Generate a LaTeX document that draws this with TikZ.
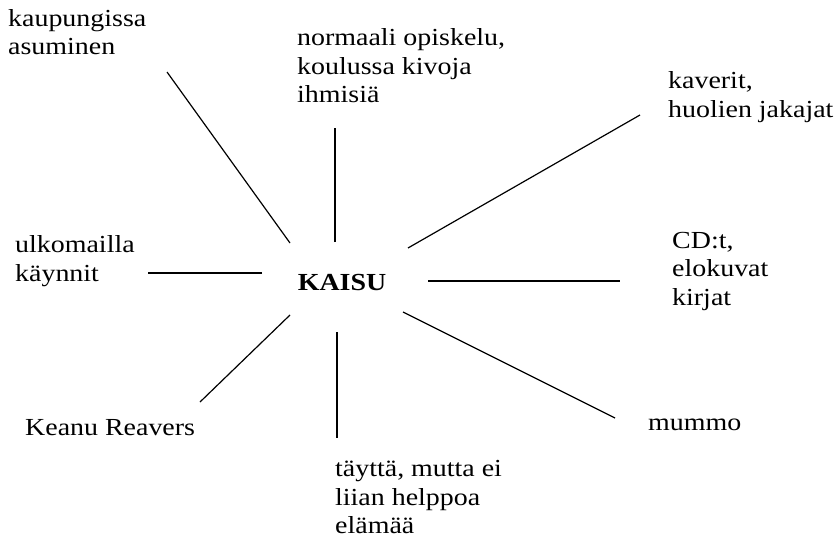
\documentclass[tikz,border=0pt]{standalone}
\usepackage{fontspec}
\setmainfont{Liberation Serif}[FakeStretch=1.14]
\begin{document}
\begin{tikzpicture}[x=1pt, y=-1pt,
    every node/.style={font=\fontsize{24.5}{28.5}\selectfont, inner sep=0pt},
    aihe/.style={anchor=west, align=left},
    viiva/.style={line width=1.2pt, black}]
    \useasboundingbox (0,0) rectangle (834,543);

    % --- keskus ---
    \node[font=\fontsize{24.5}{28.5}\selectfont\bfseries] (kaisu) at (342,283) {KAISU};

    % --- aiheet ---
    \node[aihe] (kaupunki) at (8,32)   {kaupungissa\\asuminen};
    \node[aihe] (opiskelu) at (297,66) {normaali opiskelu,\\koulussa kivoja\\ihmisiä};
    \node[aihe] (kaverit)  at (668,97) {kaverit,\\huolien jakajat};
    \node[aihe] (ulkomaat) at (15,261) {ulkomailla\\käynnit};
    \node[aihe] (media)    at (672,271) {CD:t,\\elokuvat\\kirjat};
    \node[aihe] (keanu)    at (25,428)  {Keanu Reavers};
    \node[aihe] (mummo)    at (648,425) {mummo};
    \node[aihe] (elama)    at (335,497) {täyttä, mutta ei\\liian helppoa\\elämää};

    % viivojen paat (kasin sijoitettu, kuten kuvassa)
    \coordinate (k1) at (290,243);  \coordinate (u1) at (167,72);
    \coordinate (k2) at (335,242);  \coordinate (u2) at (335,128);
    \coordinate (k3) at (408,248);  \coordinate (u3) at (640,115);
    \coordinate (k4) at (262,273);  \coordinate (u4) at (148,273);
    \coordinate (k5) at (428,281);  \coordinate (u5) at (620,281);
    \coordinate (k6) at (290,315);  \coordinate (u6) at (200,402);
    \coordinate (k7) at (337,332);  \coordinate (u7) at (337,438);
    \coordinate (k8) at (403,312);  \coordinate (u8) at (615,418);

    % --- sateet ---
    \foreach \i in {1,...,8}
      \draw[viiva] (k\i) -- (u\i);
  \end{tikzpicture}
\end{document}
